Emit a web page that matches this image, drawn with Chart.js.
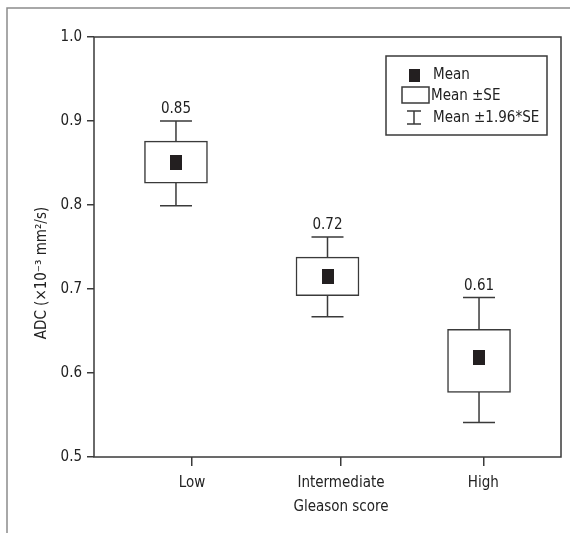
<!DOCTYPE html>
<html>
<head>
<meta charset="utf-8">
<script src="https://cdn.jsdelivr.net/npm/chart.js@4.4.0/dist/chart.umd.min.js"></script>
<style>
  body { margin: 0; background: #fff; }
  #wrap { width: 570px; height: 533px; }
</style>
</head>
<body>
<div id="wrap"><canvas id="adcChart" width="570" height="533"></canvas></div>
<script>
// Dados (ADC por grupo de Gleason)
const categories = ['Low', 'Intermediate', 'High'];
const boxPositions = [1, 2, 3];
const means = [0.851, 0.715, 0.618];
const seLower = [0.826, 0.692, 0.577];
const seUpper = [0.876, 0.738, 0.652];
const ciLower = [0.799, 0.667, 0.541];
const ciUpper = [0.900, 0.762, 0.690];
const meanLabels = ['0.85', '0.72', '0.61'];
const yTicks = [0.5, 0.6, 0.7, 0.8, 0.9, 1.0];

const FONT = "'Liberation Sans Narrow', 'DejaVu Sans Condensed', sans-serif";
const LINE = '#3a3a3a';
const MARK = '#231f20';
// the category ticks sit a little right of the boxes in the original
const tickPositions = [1.106, 2.089, 3.028];

// marcador retangular da média
const meanMark = document.createElement('canvas');
meanMark.width = 12;
meanMark.height = 15;
const mctx = meanMark.getContext('2d');
mctx.fillStyle = MARK;
mctx.fillRect(0, 0, 12, 15);

const boxExtras = {
    id: 'boxExtras',
    beforeDraw(chart) {
        const ctx = chart.ctx;
        ctx.save();
        ctx.fillStyle = '#fff';
        ctx.fillRect(0, 0, chart.width, chart.height);
        // moldura externa (topo e esquerda)
        ctx.strokeStyle = '#8c8c8c';
        ctx.lineWidth = 1.5;
        ctx.beginPath();
        ctx.moveTo(7, chart.height);
        ctx.lineTo(7, 8);
        ctx.lineTo(chart.width, 8);
        ctx.stroke();
        ctx.restore();
    },
    beforeDatasetsDraw(chart) {
        const ctx = chart.ctx;
        const x = chart.scales.x, y = chart.scales.y;
        ctx.save();
        ctx.strokeStyle = LINE;
        ctx.lineWidth = 1.5;
        boxPositions.forEach((p, i) => {
            const px = x.getPixelForValue(p);
            const top = y.getPixelForValue(ciUpper[i]);
            const bot = y.getPixelForValue(ciLower[i]);
            ctx.beginPath();
            ctx.moveTo(px, top);
            ctx.lineTo(px, bot);
            ctx.moveTo(px - 16, top);
            ctx.lineTo(px + 16, top);
            ctx.moveTo(px - 16, bot);
            ctx.lineTo(px + 16, bot);
            ctx.stroke();
        });
        ctx.restore();
    },
    afterDatasetsDraw(chart) {
        const ctx = chart.ctx;
        const x = chart.scales.x, y = chart.scales.y;
        const area = chart.chartArea;
        ctx.save();
        // contorno da área do gráfico
        ctx.strokeStyle = LINE;
        ctx.lineWidth = 1.5;
        ctx.strokeRect(area.left, area.top, area.right - area.left, area.bottom - area.top);
        // rótulos das médias
        ctx.fillStyle = '#222';
        ctx.font = '15px ' + FONT;
        ctx.textAlign = 'center';
        ctx.textBaseline = 'bottom';
        boxPositions.forEach((p, i) => {
            ctx.fillText(meanLabels[i], x.getPixelForValue(p), y.getPixelForValue(ciUpper[i]) - 4);
        });
        ctx.restore();
    },
    afterDraw(chart) {
        const ctx = chart.ctx;
        ctx.save();
        // título do eixo y
        ctx.fillStyle = '#222';
        ctx.font = '15px ' + FONT;
        ctx.translate(42, 273);
        ctx.rotate(-Math.PI / 2);
        ctx.textAlign = 'center';
        ctx.textBaseline = 'middle';
        ctx.fillText('ADC (\u00d710\u207b\u00b3 mm\u00b2/s)', 0, 0);
        ctx.restore();

        // legenda
        ctx.save();
        ctx.strokeStyle = LINE;
        ctx.lineWidth = 1.5;
        ctx.strokeRect(386, 56, 161, 79);
        ctx.fillStyle = MARK;
        ctx.fillRect(409, 69, 11, 13);
        ctx.strokeRect(402, 87, 27, 16);
        ctx.beginPath();
        ctx.moveTo(407, 111); ctx.lineTo(421, 111);
        ctx.moveTo(414, 111); ctx.lineTo(414, 124);
        ctx.moveTo(407, 124); ctx.lineTo(421, 124);
        ctx.stroke();
        ctx.fillStyle = '#222';
        ctx.font = '15px ' + FONT;
        ctx.textAlign = 'left';
        ctx.textBaseline = 'middle';
        ctx.fillText('Mean', 433, 75);
        ctx.fillText('Mean \u00b1SE', 431, 96);
        ctx.fillText('Mean \u00b11.96*SE', 433, 118);
        ctx.restore();
    }
};

const ctx = document.getElementById('adcChart').getContext('2d');
new Chart(ctx, {
    type: 'bar',
    data: {
        datasets: [{
            type: 'scatter',
            data: means.map((m, i) => ({ x: boxPositions[i], y: m })),
            pointStyle: meanMark,
            pointRadius: 7,
            order: 1
        }, {
            type: 'bar',
            data: categories.map((c, i) => ({ x: boxPositions[i], y: [seLower[i], seUpper[i]] })),
            backgroundColor: '#fff',
            borderColor: LINE,
            borderWidth: 1.5,
            borderSkipped: false,
            barThickness: 63,
            order: 2
        }]
    },
    options: {
        responsive: false,
        animation: false,
        layout: { padding: { left: 0, top: 37, right: 9, bottom: 0 } },
        plugins: {
            legend: { display: false },
            tooltip: { enabled: false }
        },
        scales: {
            x: {
                type: 'linear',
                min: 0.459,
                max: 3.541,
                offset: false,
                afterBuildTicks: scale => {
                    scale.ticks = tickPositions.map(v => ({ value: v }));
                },
                afterFit: scale => { scale.height = 76; },
                grid: { offset: false, drawOnChartArea: false, tickLength: 9, color: LINE, lineWidth: 1.5 },
                border: { display: false },
                ticks: {
                    autoSkip: false,
                    maxRotation: 0,
                    padding: 5,
                    color: '#222',
                    font: { family: FONT, size: 15, lineHeight: 1.6 },
                    callback: (v, i) => i === 1 ? [categories[1], 'Gleason score'] : categories[i]
                }
            },
            y: {
                min: 0.5,
                max: 1.0,
                afterBuildTicks: scale => {
                    scale.ticks = yTicks.map(v => ({ value: v }));
                },
                afterFit: scale => { scale.width = 94; },
                grid: { drawOnChartArea: false, tickLength: 7, color: LINE, lineWidth: 1.5 },
                border: { display: false },
                ticks: {
                    padding: 5,
                    color: '#222',
                    font: { family: FONT, size: 15 },
                    callback: v => v.toFixed(1)
                }
            }
        }
    },
    plugins: [boxExtras]
});
</script>
</body>
</html>
